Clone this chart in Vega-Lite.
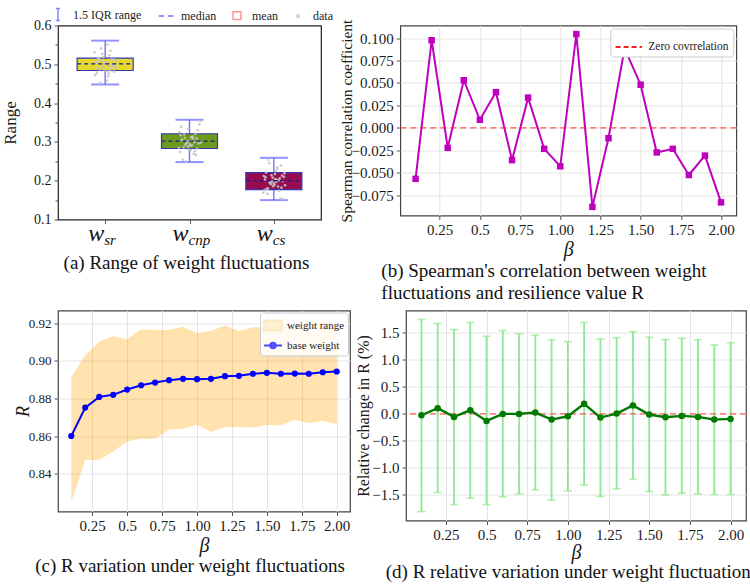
{
  "$schema": "https://vega.github.io/schema/vega-lite/v6.json",
  "padding": {"left": 0, "top": 6.5, "right": 2, "bottom": 2},
  "background": "white",
  "config": {
    "font": "Liberation Serif",
    "view": {"stroke": "#333", "strokeWidth": 1.2},
    "axis": {
      "labelFont": "Liberation Serif",
      "titleFont": "Liberation Serif",
      "labelFontSize": 15,
      "titleFontWeight": "normal",
      "labelColor": "#1a1a1a",
      "titleColor": "#1a1a1a",
      "domain": false,
      "tickColor": "#555",
      "tickSize": 4,
      "gridColor": "#e4e4e4",
      "labelPadding": 3,
      "labelOverlap": false
    },
    "title": {"font": "Liberation Serif", "fontSize": 19, "fontWeight": "normal", "color": "#111"},
    "legend": {"labelFont": "Liberation Serif", "labelColor": "#222"}
  },
  "datasets": {
    "boxes": [
      {"g": "sr", "pos": 1, "lo": 0.448, "q1": 0.484, "med": 0.501, "q3": 0.516, "hi": 0.561},
      {"g": "cnp", "pos": 2, "lo": 0.248, "q1": 0.283, "med": 0.302, "q3": 0.321, "hi": 0.357},
      {"g": "cs", "pos": 3, "lo": 0.150, "q1": 0.177, "med": 0.200, "q3": 0.221, "hi": 0.259}
    ],
    "jitter": [
      {"x": 1.017, "v": 0.501}, {"x": 0.937, "v": 0.487}, {"x": 1.109, "v": 0.512}, {"x": 0.972, "v": 0.495}, {"x": 1.049, "v": 0.523},
      {"x": 0.902, "v": 0.478}, {"x": 1.007, "v": 0.505}, {"x": 1.084, "v": 0.498}, {"x": 0.874, "v": 0.531}, {"x": 1.035, "v": 0.469},
      {"x": 0.958, "v": 0.509}, {"x": 1.126, "v": 0.492}, {"x": 0.916, "v": 0.515}, {"x": 1.056, "v": 0.484}, {"x": 0.993, "v": 0.503},
      {"x": 1.098, "v": 0.497}, {"x": 0.951, "v": 0.541}, {"x": 1.021, "v": 0.458}, {"x": 0.888, "v": 0.507}, {"x": 1.070, "v": 0.489},
      {"x": 0.979, "v": 0.519}, {"x": 1.042, "v": 0.476}, {"x": 0.923, "v": 0.511}, {"x": 1.119, "v": 0.494}, {"x": 0.965, "v": 0.527},
      {"x": 1.014, "v": 0.482}, {"x": 1.091, "v": 0.499}, {"x": 0.895, "v": 0.504}, {"x": 1.028, "v": 0.551}, {"x": 0.944, "v": 0.452},
      {"x": 1.077, "v": 0.513}, {"x": 0.986, "v": 0.486}, {"x": 1.133, "v": 0.508}, {"x": 0.909, "v": 0.491}, {"x": 1.063, "v": 0.535},
      {"x": 0.881, "v": 0.472}, {"x": 1.000, "v": 0.502}, {"x": 1.042, "v": 0.496}, {"x": 0.930, "v": 0.517}, {"x": 1.105, "v": 0.481},
      {"x": 2.105, "v": 0.301}, {"x": 1.930, "v": 0.286}, {"x": 2.042, "v": 0.313}, {"x": 2.000, "v": 0.295}, {"x": 1.881, "v": 0.325},
      {"x": 2.063, "v": 0.276}, {"x": 1.909, "v": 0.306}, {"x": 2.133, "v": 0.298}, {"x": 1.986, "v": 0.334}, {"x": 2.077, "v": 0.266},
      {"x": 1.944, "v": 0.310}, {"x": 2.028, "v": 0.291}, {"x": 1.895, "v": 0.317}, {"x": 2.091, "v": 0.282}, {"x": 2.014, "v": 0.303},
      {"x": 1.965, "v": 0.297}, {"x": 2.119, "v": 0.345}, {"x": 1.923, "v": 0.254}, {"x": 2.042, "v": 0.308}, {"x": 1.979, "v": 0.288},
      {"x": 2.070, "v": 0.321}, {"x": 1.888, "v": 0.274}, {"x": 2.021, "v": 0.312}, {"x": 1.951, "v": 0.293}, {"x": 2.098, "v": 0.330},
      {"x": 1.993, "v": 0.280}, {"x": 2.056, "v": 0.299}, {"x": 1.916, "v": 0.304}, {"x": 2.126, "v": 0.354}, {"x": 1.958, "v": 0.250},
      {"x": 2.035, "v": 0.314}, {"x": 1.874, "v": 0.285}, {"x": 2.084, "v": 0.309}, {"x": 2.007, "v": 0.290}, {"x": 1.902, "v": 0.339},
      {"x": 2.049, "v": 0.269}, {"x": 1.972, "v": 0.302}, {"x": 2.109, "v": 0.296}, {"x": 1.937, "v": 0.319}, {"x": 2.017, "v": 0.279},
      {"x": 3.056, "v": 0.201}, {"x": 2.993, "v": 0.186}, {"x": 3.098, "v": 0.213}, {"x": 2.951, "v": 0.195}, {"x": 3.021, "v": 0.225},
      {"x": 2.888, "v": 0.176}, {"x": 3.070, "v": 0.206}, {"x": 2.979, "v": 0.198}, {"x": 3.042, "v": 0.234}, {"x": 2.923, "v": 0.166},
      {"x": 3.119, "v": 0.210}, {"x": 2.965, "v": 0.191}, {"x": 3.014, "v": 0.217}, {"x": 3.091, "v": 0.182}, {"x": 2.895, "v": 0.203},
      {"x": 3.028, "v": 0.197}, {"x": 2.944, "v": 0.245}, {"x": 3.077, "v": 0.154}, {"x": 2.986, "v": 0.208}, {"x": 3.133, "v": 0.188},
      {"x": 2.909, "v": 0.221}, {"x": 3.063, "v": 0.174}, {"x": 2.881, "v": 0.212}, {"x": 3.000, "v": 0.193}, {"x": 3.042, "v": 0.230},
      {"x": 2.930, "v": 0.180}, {"x": 3.105, "v": 0.199}, {"x": 3.017, "v": 0.204}, {"x": 2.937, "v": 0.254}, {"x": 3.109, "v": 0.152},
      {"x": 2.972, "v": 0.214}, {"x": 3.049, "v": 0.185}, {"x": 2.902, "v": 0.209}, {"x": 3.007, "v": 0.190}, {"x": 3.084, "v": 0.239},
      {"x": 2.874, "v": 0.169}, {"x": 3.035, "v": 0.202}, {"x": 2.958, "v": 0.196}, {"x": 3.126, "v": 0.219}, {"x": 2.916, "v": 0.179}
    ],
    "spearman": [
      {"beta": 0.1, "rho": -0.0567}, {"beta": 0.2, "rho": 0.0976}, {"beta": 0.3, "rho": -0.0222}, {"beta": 0.4, "rho": 0.0531},
      {"beta": 0.5, "rho": 0.0090}, {"beta": 0.6, "rho": 0.0398}, {"beta": 0.7, "rho": -0.0359}, {"beta": 0.8, "rho": 0.0337},
      {"beta": 0.9, "rho": -0.0233}, {"beta": 1.0, "rho": -0.0427}, {"beta": 1.1, "rho": 0.1044}, {"beta": 1.2, "rho": -0.0879},
      {"beta": 1.3, "rho": -0.0115}, {"beta": 1.4, "rho": 0.0886}, {"beta": 1.5, "rho": 0.0481}, {"beta": 1.6, "rho": -0.0273},
      {"beta": 1.7, "rho": -0.0233}, {"beta": 1.8, "rho": -0.0524}, {"beta": 1.9, "rho": -0.0308}, {"beta": 2.0, "rho": -0.0829}
    ],
    "rvar": [
      {"beta": 0.1, "base": 0.8601, "lo": 0.8249, "hi": 0.8912},
      {"beta": 0.2, "base": 0.8752, "lo": 0.8475, "hi": 0.9031},
      {"beta": 0.3, "base": 0.8809, "lo": 0.8475, "hi": 0.9102},
      {"beta": 0.4, "base": 0.8820, "lo": 0.8519, "hi": 0.9132},
      {"beta": 0.5, "base": 0.8848, "lo": 0.8572, "hi": 0.9115},
      {"beta": 0.6, "base": 0.8871, "lo": 0.8587, "hi": 0.9168},
      {"beta": 0.7, "base": 0.8885, "lo": 0.8587, "hi": 0.9164},
      {"beta": 0.8, "base": 0.8898, "lo": 0.8635, "hi": 0.9164},
      {"beta": 0.9, "base": 0.8905, "lo": 0.8640, "hi": 0.9182},
      {"beta": 1.0, "base": 0.8903, "lo": 0.8661, "hi": 0.9147},
      {"beta": 1.1, "base": 0.8905, "lo": 0.8622, "hi": 0.9159},
      {"beta": 1.2, "base": 0.8919, "lo": 0.8649, "hi": 0.9188},
      {"beta": 1.3, "base": 0.8921, "lo": 0.8649, "hi": 0.9159},
      {"beta": 1.4, "base": 0.8932, "lo": 0.8645, "hi": 0.9179},
      {"beta": 1.5, "base": 0.8937, "lo": 0.8660, "hi": 0.9179},
      {"beta": 1.6, "base": 0.8932, "lo": 0.8658, "hi": 0.9185},
      {"beta": 1.7, "base": 0.8933, "lo": 0.8688, "hi": 0.9200},
      {"beta": 1.8, "base": 0.8932, "lo": 0.8670, "hi": 0.9220},
      {"beta": 1.9, "base": 0.8940, "lo": 0.8681, "hi": 0.9205},
      {"beta": 2.0, "base": 0.8944, "lo": 0.8663, "hi": 0.9195}
    ],
    "rel": [
      {"beta": 0.1, "mean": -0.025, "lo": -1.811, "hi": 1.749},
      {"beta": 0.2, "mean": 0.106, "lo": -1.456, "hi": 1.674},
      {"beta": 0.3, "mean": -0.056, "lo": -1.680, "hi": 1.562},
      {"beta": 0.4, "mean": 0.068, "lo": -1.562, "hi": 1.693},
      {"beta": 0.5, "mean": -0.131, "lo": -1.680, "hi": 1.437},
      {"beta": 0.6, "mean": 0.000, "lo": -1.537, "hi": 1.543},
      {"beta": 0.7, "mean": 0.000, "lo": -1.481, "hi": 1.487},
      {"beta": 0.8, "mean": 0.025, "lo": -1.406, "hi": 1.456},
      {"beta": 0.9, "mean": -0.106, "lo": -1.599, "hi": 1.375},
      {"beta": 1.0, "mean": -0.044, "lo": -1.425, "hi": 1.338},
      {"beta": 1.1, "mean": 0.187, "lo": -1.319, "hi": 1.693},
      {"beta": 1.2, "mean": -0.068, "lo": -1.531, "hi": 1.388},
      {"beta": 1.3, "mean": 0.006, "lo": -1.388, "hi": 1.413},
      {"beta": 1.4, "mean": 0.156, "lo": -1.213, "hi": 1.525},
      {"beta": 1.5, "mean": -0.012, "lo": -1.437, "hi": 1.419},
      {"beta": 1.6, "mean": -0.062, "lo": -1.500, "hi": 1.375},
      {"beta": 1.7, "mean": -0.037, "lo": -1.469, "hi": 1.400},
      {"beta": 1.8, "mean": -0.056, "lo": -1.481, "hi": 1.375},
      {"beta": 1.9, "mean": -0.106, "lo": -1.493, "hi": 1.276},
      {"beta": 2.0, "mean": -0.093, "lo": -1.493, "hi": 1.319}
    ]
  },
  "spacing": 6,
  "resolve": {
    "scale": {"fill": "independent", "stroke": "independent", "shape": "independent", "color": "independent"},
    "legend": {"fill": "independent", "stroke": "independent", "shape": "independent", "color": "independent"}
  },
  "vconcat": [
    {
      "spacing": 4.3,
      "resolve": {
        "scale": {"fill": "independent", "stroke": "independent", "shape": "independent", "color": "independent"},
        "legend": {"fill": "independent", "stroke": "independent", "shape": "independent", "color": "independent"}
      },
      "hconcat": [
        {
          "width": 263,
          "height": 194,
          "view": {"stroke": "#222", "strokeWidth": 1.2},
          "title": {"text": "(a) Range of weight fluctuations", "orient": "bottom", "anchor": "middle", "frame": "group", "offset": 6, "dx": -3},
          "resolve": {"axis": {"y": "independent"}},
          "layer": [
            {
              "data": {"name": "boxes"},
              "mark": {"type": "rule", "color": "#7070ff", "strokeWidth": 1.4},
              "encoding": {
                "x": {"field": "pos", "type": "quantitative", "scale": {"domain": [0.5, 3.5], "nice": false, "zero": false},
                      "axis": {"values": [1, 2, 3], "labels": false, "title": null, "ticks": true, "grid": false}},
                "y": {"field": "lo", "type": "quantitative", "scale": {"domain": [0.1, 0.6], "nice": false, "zero": false},
                      "axis": {"orient": "left", "values": [0.1, 0.3, 0.5], "format": ".1f", "labelFontSize": 14,
                               "title": "Range", "titleFontSize": 17, "titleX": -39, "titleAngle": 270, "titleBaseline": "bottom", "grid": false}},
                "y2": {"field": "hi"}
              }
            },
            {
              "data": {"name": "boxes"},
              "mark": {"type": "bar", "width": 56, "stroke": "#3535b5", "strokeWidth": 1.2},
              "encoding": {
                "x": {"field": "pos", "type": "quantitative"},
                "y": {"field": "q1", "type": "quantitative",
                      "axis": {"orient": "left", "values": [0.2, 0.4, 0.6], "format": ".1f", "labelFontSize": 14, "title": null, "grid": false}},
                "y2": {"field": "q3"},
                "fill": {"field": "g", "type": "nominal", "scale": {"domain": ["sr", "cnp", "cs"], "range": ["#e6d92c", "#6b9a1c", "#990b50"]}, "legend": null}
              }
            },
            {
              "data": {"name": "boxes"},
              "mark": {"type": "tick", "orient": "horizontal", "size": 28, "thickness": 2, "color": "#6464ff"},
              "encoding": {"x": {"field": "pos", "type": "quantitative"},
                           "y": {"field": "lo", "type": "quantitative",
                                 "axis": {"orient": "left", "values": [0.15, 0.25, 0.35, 0.45, 0.55], "labels": false, "tickSize": 3, "title": null, "grid": false}}}
            },
            {
              "data": {"name": "boxes"},
              "mark": {"type": "tick", "orient": "horizontal", "size": 28, "thickness": 2, "color": "#6464ff"},
              "encoding": {"x": {"field": "pos", "type": "quantitative"}, "y": {"field": "hi", "type": "quantitative", "axis": null}}
            },
            {
              "data": {"name": "jitter"},
              "mark": {"type": "point", "filled": true, "size": 7, "color": "#c4c4c4", "opacity": 0.9},
              "encoding": {"x": {"field": "x", "type": "quantitative"}, "y": {"field": "v", "type": "quantitative", "axis": null}}
            },
            {
              "data": {"name": "boxes"},
              "mark": {"type": "rule", "color": "#1a1a8c", "strokeDash": [4, 3], "strokeWidth": 1.3, "xOffset": -28, "x2Offset": 28},
              "encoding": {
                "x": {"field": "pos", "type": "quantitative"},
                "x2": {"field": "pos"},
                "y": {"field": "med", "type": "quantitative", "axis": null}
              }
            },
            {
              "data": {"name": "boxes"},
              "mark": {"type": "text", "text": "w", "font": "Liberation Serif", "fontStyle": "italic", "fontSize": 24, "align": "right", "baseline": "alphabetic", "dy": 21, "dx": -1, "color": "#111"},
              "encoding": {"x": {"field": "pos", "type": "quantitative"}, "y": {"datum": 0.1, "axis": null}}
            },
            {
              "data": {"name": "boxes"},
              "mark": {"type": "text", "font": "Liberation Serif", "fontStyle": "italic", "fontSize": 15, "align": "left", "baseline": "alphabetic", "dy": 25, "dx": -1, "color": "#111"},
              "encoding": {"x": {"field": "pos", "type": "quantitative"}, "y": {"datum": 0.1, "axis": null}, "text": {"field": "g", "type": "nominal"}}
            },
            {
              "data": {"values": []},
              "mark": {"type": "point", "filled": false, "strokeWidth": 1.5},
              "encoding": {
                "stroke": {"field": "item", "type": "nominal",
                           "scale": {"domain": ["1.5 IQR range", "median", "mean", "data"], "range": ["#5050ff", "#2b2bff", "#ff6b6b", "#b5b5b5"]},
                           "legend": {"title": null, "orient": "none", "legendX": -7, "legendY": -18, "direction": "horizontal",
                                      "labelFontSize": 12, "symbolSize": 144, "symbolStrokeWidth": 1.5, "labelOffset": 8,
                                      "columnPadding": 13, "symbolOpacity": 1}},
                "shape": {"field": "item", "type": "nominal",
                          "scale": {"domain": ["1.5 IQR range", "median", "mean", "data"],
                                    "range": ["M-0.35,-1H0.35M0,-1V1M-0.35,1H0.35", "M-1.2,0H-0.35M0.35,0H1.2", "M-0.65,-0.65H0.65V0.65H-0.65Z", "M-0.2,0A0.2,0.2 0 1,1 0.2,0A0.2,0.2 0 1,1 -0.2,0Z"]}}
              }
            }
          ]
        },
        {
          "width": 336,
          "height": 190,
          "data": {"name": "spearman"},
          "view": {"stroke": "#444", "strokeWidth": 1.2},
          "title": {"text": ["(b) Spearman's correlation between weight", "fluctuations and resilience value R"], "orient": "bottom", "anchor": "start", "frame": "group", "offset": 2, "dx": -19, "lineHeight": 22},
          "resolve": {"axis": {"y": "independent"}},
          "layer": [
            {
              "mark": {"type": "line", "color": "#bf00bf", "strokeWidth": 2, "point": {"shape": "square", "size": 42, "filled": true, "color": "#bf00bf"}},
              "encoding": {
                "x": {"field": "beta", "type": "quantitative", "scale": {"domain": [0.005, 2.095], "nice": false, "zero": false},
                      "axis": {"values": [0.25, 0.5, 0.75, 1, 1.25, 1.5, 1.75, 2], "labelExpr": "datum.value == 0.5 ? '0.5' : format(datum.value, '.2f')",
                               "title": "β", "titleFontStyle": "italic", "titleFontSize": 20, "titlePadding": 2, "grid": true}},
                "y": {"field": "rho", "type": "quantitative", "scale": {"domain": [-0.0975, 0.114], "nice": false, "zero": false},
                      "axis": {"orient": "left", "values": [-0.075, -0.025, 0.025, 0.075], "format": ".3f",
                               "title": "Spearman correlation coefficient", "titleFontSize": 15.5, "titleX": -46, "titleAngle": 270, "titleBaseline": "bottom", "grid": true}}
              }
            },
            {
              "data": {"values": [{"level": 0}]},
              "mark": {"type": "rule", "strokeDash": [6, 4], "strokeWidth": 1.2, "opacity": 0.75},
              "encoding": {
                "y": {"field": "level", "type": "quantitative",
                      "axis": {"orient": "left", "values": [-0.05, 0, 0.05, 0.1], "format": ".3f", "title": null, "grid": true}},
                "stroke": {"datum": "Zero covrrelation", "type": "nominal", "scale": {"range": ["#ff2020"]},
                           "legend": {"title": null, "orient": "top-right", "offset": 3, "padding": 4, "fillColor": "#ffffff", "strokeColor": "#cccccc",
                                      "cornerRadius": 3, "symbolType": "stroke", "symbolDash": [5, 3], "symbolStrokeWidth": 2.2, "symbolSize": 700,
                                      "labelFontSize": 11.5, "labelOffset": 5, "symbolOpacity": 1}}
              }
            }
          ]
        }
      ]
    },
    {
      "spacing": 3,
      "resolve": {
        "scale": {"fill": "independent", "stroke": "independent", "shape": "independent", "color": "independent"},
        "legend": {"fill": "independent", "stroke": "independent", "shape": "independent", "color": "independent"}
      },
      "hconcat": [
        {
          "width": 292,
          "height": 201,
          "data": {"name": "rvar"},
          "view": {"stroke": "#444", "strokeWidth": 1.2},
          "title": {"text": "(c) R variation under weight fluctuations", "orient": "bottom", "anchor": "middle", "frame": "group", "offset": 1, "dx": -14},
          "layer": [
            {
              "mark": {"type": "area", "color": "#ffa500", "opacity": 0.32},
              "encoding": {
                "x": {"field": "beta", "type": "quantitative", "scale": {"domain": [0.005, 2.095], "nice": false, "zero": false},
                      "axis": {"values": [0.25, 0.5, 0.75, 1, 1.25, 1.5, 1.75, 2], "labelExpr": "datum.value == 0.5 ? '0.5' : format(datum.value, '.2f')",
                               "title": "β", "titleFontStyle": "italic", "titleFontSize": 20, "titlePadding": 2, "grid": true}},
                "y": {"field": "lo", "type": "quantitative", "scale": {"domain": [0.82, 0.9268], "nice": false, "zero": false},
                      "axis": {"values": [0.84, 0.86, 0.88, 0.9, 0.92], "format": ".2f", "labelFontSize": 13,
                               "title": "R", "titleFontStyle": "italic", "titleFontSize": 18, "titleX": -26, "titleAngle": 270, "titleBaseline": "bottom", "grid": true}},
                "y2": {"field": "hi"}
              }
            },
            {
              "mark": {"type": "line", "color": "#0000ff", "strokeWidth": 2, "point": {"filled": true, "size": 38, "color": "#0000ff"}},
              "encoding": {"x": {"field": "beta", "type": "quantitative"}, "y": {"field": "base", "type": "quantitative"}}
            },
            {
              "data": {"values": []},
              "mark": {"type": "point", "filled": true, "strokeWidth": 2},
              "encoding": {
                "fill": {"field": "item", "type": "nominal", "scale": {"domain": ["weight range", "base weight"], "range": ["#fde2ad", "#0000ff"]},
                         "legend": {"title": null, "orient": "top-right", "offset": 2, "padding": 3, "fillColor": "rgba(255,255,255,0.85)",
                                    "strokeColor": "#cccccc", "cornerRadius": 3, "labelFontSize": 11, "symbolSize": 324, "symbolStrokeWidth": 2,
                                    "rowPadding": 1, "labelOffset": 4, "symbolOpacity": 1}},
                "stroke": {"field": "item", "type": "nominal", "scale": {"domain": ["weight range", "base weight"], "range": ["#fde2ad", "#0000ff"]}},
                "shape": {"field": "item", "type": "nominal", "scale": {"domain": ["weight range", "base weight"],
                          "range": ["M-1,-0.55H1V0.55H-1Z", "M-1,0H1M-0.3,0A0.3,0.3 0 1,1 0.3,0A0.3,0.3 0 1,1 -0.3,0Z"]}}
              }
            }
          ]
        },
        {
          "width": 340,
          "height": 210,
          "data": {"name": "rel"},
          "view": {"stroke": "#444", "strokeWidth": 1.2},
          "title": {"text": "(d) R relative variation under weight fluctuations", "orient": "bottom", "anchor": "middle", "frame": "group", "offset": 0, "dx": -4},
          "resolve": {"axis": {"y": "independent"}},
          "layer": [
            {
              "mark": {"type": "rule", "color": "#8fe88f", "strokeWidth": 1.8},
              "encoding": {
                "x": {"field": "beta", "type": "quantitative", "scale": {"domain": [0.005, 2.095], "nice": false, "zero": false},
                      "axis": {"values": [0.25, 0.5, 0.75, 1, 1.25, 1.5, 1.75, 2], "labelExpr": "datum.value == 0.5 ? '0.5' : format(datum.value, '.2f')",
                               "title": "β", "titleFontStyle": "italic", "titleFontSize": 20, "titlePadding": 0, "grid": true}},
                "y": {"field": "lo", "type": "quantitative", "scale": {"domain": [-1.975, 1.915], "nice": false, "zero": false},
                      "axis": {"orient": "left", "values": [-1.5, -0.5, 0.5, 1.5], "format": ".1f",
                               "title": "Relative change in  R (%)", "titleFontSize": 16, "titleX": -35, "titleAngle": 270, "titleBaseline": "bottom", "grid": true}},
                "y2": {"field": "hi"}
              }
            },
            {
              "mark": {"type": "tick", "orient": "horizontal", "size": 8, "thickness": 1.6, "color": "#8fe88f"},
              "encoding": {"x": {"field": "beta", "type": "quantitative"}, "y": {"field": "lo", "type": "quantitative", "axis": null}}
            },
            {
              "mark": {"type": "tick", "orient": "horizontal", "size": 8, "thickness": 1.6, "color": "#8fe88f"},
              "encoding": {"x": {"field": "beta", "type": "quantitative"}, "y": {"field": "hi", "type": "quantitative", "axis": null}}
            },
            {
              "data": {"values": [{"level": 0}]},
              "mark": {"type": "rule", "color": "#ff4444", "strokeDash": [6, 4], "strokeWidth": 1.2, "opacity": 0.85},
              "encoding": {"y": {"field": "level", "type": "quantitative",
                                 "axis": {"orient": "left", "values": [-1, 0, 1], "format": ".1f", "title": null, "grid": true}}}
            },
            {
              "mark": {"type": "line", "color": "#007a00", "strokeWidth": 2.4, "point": {"filled": true, "size": 42, "color": "#007a00"}},
              "encoding": {"x": {"field": "beta", "type": "quantitative"}, "y": {"field": "mean", "type": "quantitative", "axis": null}}
            }
          ]
        }
      ]
    }
  ]
}
